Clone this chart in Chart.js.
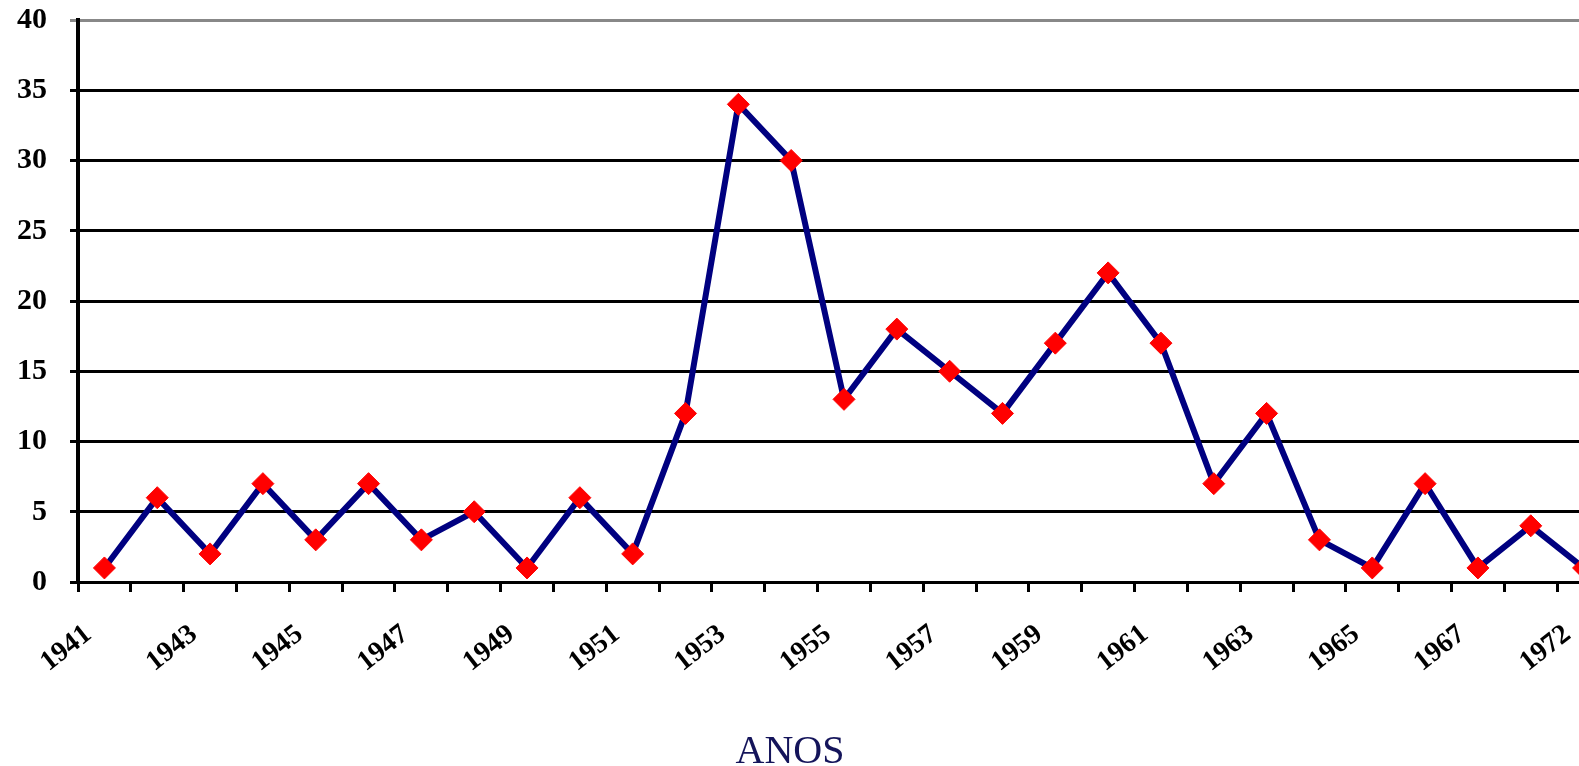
<!DOCTYPE html>
<html>
<head>
<meta charset="utf-8">
<script src="https://cdn.jsdelivr.net/npm/chart.js@4"></script>
<style>
html,body{margin:0;padding:0;background:#fff;overflow:hidden;}
#wrap{position:relative;width:1579px;height:766px;overflow:hidden;}
#c{display:block;position:absolute;left:0;top:0;}
#ttl{position:absolute;left:0;top:731px;width:1580px;text-align:center;font-family:'Liberation Serif',serif;font-size:40px;line-height:38px;color:#14145a;}
</style>
</head>
<body>
<div id="wrap">
<canvas id="c" width="1622" height="766" style="width:1622px;height:766px"></canvas>
<div id="ttl"></div>
</div>
<script>
const years = ['1941','1942','1943','1944','1945','1946','1947','1948','1949','1950','1951','1952','1953','1954','1955','1956','1957','1958','1959','1960','1961','1962','1963','1964','1965','1966','1967','1970','1972'];
const values = [1,6,2,7,3,7,3,5,1,6,2,12,34,30,13,18,15,12,17,22,17,7,12,3,1,7,1,4,1];
const yTicks = [0,5,10,15,20,25,30,35,40];
const axisTitle = 'ANOS';

document.getElementById('ttl').textContent = axisTitle;

new Chart(document.getElementById('c'), {
  type: 'line',
  data: {
    labels: years,
    datasets: [{
      data: values,
      borderColor: '#000080',
      borderWidth: 6,
      tension: 0,
      pointStyle: 'rectRot',
      pointRadius: 11,
      pointBackgroundColor: '#ff0000',
      pointBorderColor: '#ff0000',
      pointBorderWidth: 1
    }]
  },
  options: {
    responsive: false,
    animation: false,
    devicePixelRatio: 1,
    layout: { padding: { left: 0, right: 0, top: 0, bottom: 0 } },
    plugins: {
      legend: { display: false },
      tooltip: { enabled: false },
      title: { display: false }
    },
    scales: {
      x: {
        offset: true,
        grid: { display: true, drawOnChartArea: false, drawTicks: true, tickLength: 10, color: '#000', lineWidth: 3, offset: true },
        border: { display: true, color: '#000', width: 3 },
        ticks: {
          autoSkip: false,
          maxRotation: 38,
          minRotation: 38,
          color: '#000',
          labelOffset: -16,
          font: { family: 'Liberation Serif', size: 28, weight: 'bold' },
          padding: 26,
          callback: function(v, i) { return i % 2 === 0 ? years[i] : ''; }
        },
        afterFit: function(s) { s.height = 184; s.paddingLeft = 0; s.paddingRight = 0; s.paddingTop = 0; s.paddingBottom = 0; }
      },
      y: {
        min: 0,
        max: 40,
        afterBuildTicks: function(s) { s.ticks = yTicks.map(v => ({ value: v })); },
        grid: {
          color: function(ctx) { return ctx.tick && ctx.tick.value === 40 ? '#888888' : '#000'; },
          lineWidth: 3,
          tickLength: 8,
          drawTicks: true
        },
        border: { display: true, color: '#000', width: 4 },
        ticks: {
          color: '#000',
          padding: 23,
          font: { family: 'Liberation Serif', size: 30, weight: 'bold' }
        },
        afterFit: function(s) { s.width = 78; s.paddingTop = 20; s.paddingBottom = 0; s.paddingLeft = 0; s.paddingRight = 0; }
      }
    }
  }
});
</script>
</body>
</html>
